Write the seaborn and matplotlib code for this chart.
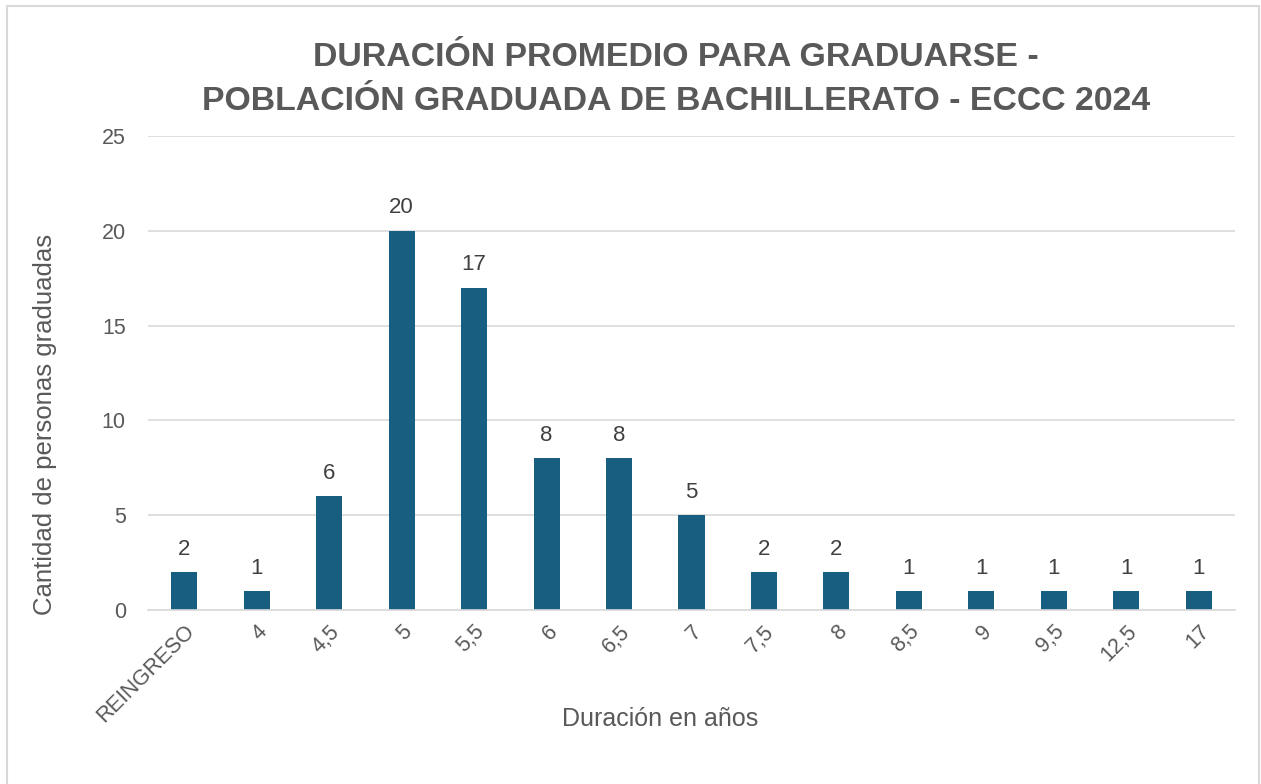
import matplotlib
matplotlib.use("Agg")
import matplotlib.pyplot as plt
import seaborn as sns
import pandas as pd
from matplotlib.patches import Rectangle

categorias = ["REINGRESO", "4", "4,5", "5", "5,5", "6", "6,5", "7", "7,5", "8",
              "8,5", "9", "9,5", "12,5", "17"]
cantidades = [2, 1, 6, 20, 17, 8, 8, 5, 2, 2, 1, 1, 1, 1, 1]
yticks = [0, 5, 10, 15, 20, 25]

sns.set_theme(style="white")
plt.rcParams['font.family'] = ['Liberation Sans', 'DejaVu Sans']

df = pd.DataFrame({"cat": categorias, "val": cantidades})

fig = plt.figure(figsize=(12.61, 7.84), dpi=100)
ax = fig.add_axes([148/1261, 1 - 610/784, (1235-148)/1261, (610-136)/784])

bar_color = "#175E80"
sns.barplot(data=df, x="cat", y="val", ax=ax, color=bar_color, width=0.36,
            saturation=1, edgecolor="none", order=categorias)

ax.set_ylim(0, 25)
ax.set_yticks(yticks)
ax.set_xlim(-0.5, len(categorias) - 0.5)
ax.yaxis.grid(True, color="#D9D9D9", linewidth=1.2)
ax.set_axisbelow(True)
for s in ["top", "right", "left"]:
    ax.spines[s].set_visible(False)
ax.spines["bottom"].set_color("#D9D9D9")
ax.spines["bottom"].set_linewidth(1.2)

txt = "#595959"
ax.tick_params(axis="y", labelsize=15.5, labelcolor=txt, length=0, pad=16)
ax.tick_params(axis="x", labelsize=15.5, labelcolor=txt, length=0, pad=8)
plt.setp(ax.get_xticklabels(), rotation=45, ha="right", rotation_mode="anchor")

for c in ax.containers:
    ax.bar_label(c, labels=[str(v) for v in cantidades], padding=9, fontsize=16, color="#404040")

ax.set_xlabel("Duración en años", fontsize=18, color=txt)
ax.xaxis.set_label_coords(0.471, -0.205)
ax.set_ylabel("Cantidad de personas graduadas", fontsize=18.5, color=txt)
ax.yaxis.set_label_coords(-0.0835, 0.391)

fig.text(676/1261, 1 - 57/784, "DURACIÓN PROMEDIO PARA GRADUARSE -", ha="center", va="center",
         fontsize=24.4, fontweight="bold", color=txt)
fig.text(676/1261, 1 - 101/784, "POBLACIÓN GRADUADA DE BACHILLERATO - ECCC 2024", ha="center", va="center",
         fontsize=24.4, fontweight="bold", color=txt)

fig.patches.append(Rectangle((7/1261, -0.01), 1252/1261, 1 - 6/784 + 0.01, transform=fig.transFigure,
                             fill=False, edgecolor="#D9D9D9", linewidth=1.5))

fig.savefig("out.png", dpi=100)
